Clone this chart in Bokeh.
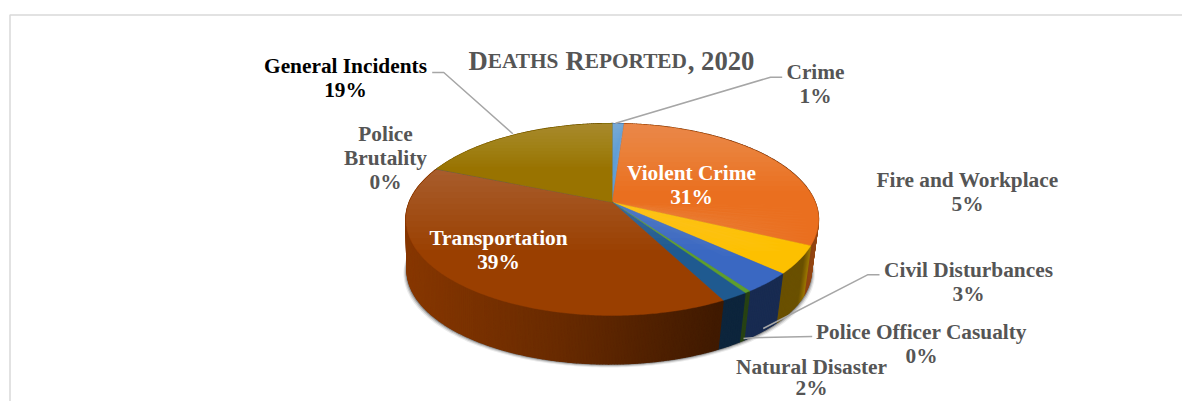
import numpy as np
from bokeh.plotting import figure
from bokeh.models import Range1d
from bokeh.core.properties import value
from bokeh.embed import file_html
from bokeh.resources import INLINE

# ---- data ----
categories = ["Crime", "Violent Crime", "Fire and Workplace", "Civil Disturbances",
              "Police Officer Casualty", "Natural Disaster", "Transportation",
              "Police Brutality", "General Incidents"]
shares = [1.1, 31.0, 4.7, 3.4, 0.4, 1.8, 38.8, 0.05, 18.75]
colors = ["#5B9BD5", "#EA6F1F", "#FDC000", "#3A68C2", "#5E9E2E",
          "#1F5A90", "#9A3F00", "#636363", "#997300"]
title_parts = ["D", "EATHS", "R", "EPORTED", ", 2020"]

# ---- layout ----
WIDTH, HEIGHT = 1182, 401
CX, CY = 611.7, 201.7
K, A, B = -0.18, 92.9, 203.0
DEPTH, BSCALE, BSHIFT = 51.8, 0.98, -3.0
FONT = value("Liberation Serif")
GREY = "#555555"

label_pos = {  # centre x, first line centre y, text colour, line breaks, line step
    "Crime": (815, 71, GREY, ["Crime"], 24),
    "Violent Crime": (691, 172, "#ffffff", ["Violent Crime"], 24),
    "Fire and Workplace": (967, 179, GREY, ["Fire and Workplace"], 24),
    "Civil Disturbances": (968, 269, GREY, ["Civil Disturbances"], 24),
    "Police Officer Casualty": (921, 331, GREY, ["Police Officer Casualty"], 24),
    "Natural Disaster": (811, 366, GREY, ["Natural Disaster"], 21.5),
    "Transportation": (498, 237, "#ffffff", ["Transportation"], 24),
    "Police Brutality": (385, 133, GREY, ["Police", "Brutality"], 24),
    "General Incidents": (345, 65, "#000000", ["General Incidents"], 24),
}
leaders = [
    ([431.7, 443.3, 512.3], [72, 72, 133.3]),
    ([781.7, 770, 615], [76.7, 76.7, 122.7]),
    ([879, 867, 762.7], [274.3, 274.3, 328]),
    ([811.7, 751.7, 743], [336, 337.3, 338]),
]


def top_pt(t):
    u, v = np.sin(t), -np.cos(t)
    d = 1 + K * v
    return CX + B * u / d, CY + A * v / d


def bot_pt(t):
    u, v = np.sin(t), -np.cos(t)
    d = 1 + K * v
    return CX + BSHIFT + BSCALE * B * u / d, CY + BSCALE * A * v / d + DEPTH - 1.0


def mix(c, f):
    r, g, b = int(c[1:3], 16), int(c[3:5], 16), int(c[5:7], 16)
    return "#%02x%02x%02x" % (int(r * f), int(g * f), int(b * f))


def side_shade(x):
    return float(np.interp(x, [405, 560, 717, 803, 809, 818],
                           [0.88, 0.68, 0.42, 0.42, 0.60, 0.65]))


p = figure(width=WIDTH, height=HEIGHT, x_range=Range1d(0, WIDTH), y_range=Range1d(HEIGHT, 0),
           output_backend="svg", toolbar_location=None, x_axis_type=None, y_axis_type=None,
           min_border=0, outline_line_color=None, background_fill_color="#ffffff")
p.grid.visible = False

# chart frame
p.line([WIDTH, 9.5, 9.5], [14.5, 14.5, HEIGHT], line_color="#d9d9d9", line_width=1.5)

# soft shadow under the pie
full = np.linspace(0, 2 * np.pi, 361)
bx, by = bot_pt(full)
for off, a in [(3.5, 0.08), (2.5, 0.14), (1.5, 0.22), (0.7, 0.30)]:
    gx = CX + BSHIFT + (bx - CX - BSHIFT) * (1 + off / 205)
    p.patch(gx, by + off, fill_color="#000000", fill_alpha=a, line_color=None)

# slice angles
fractions = np.array(shares) / sum(shares)
edges = np.concatenate([[0], np.cumsum(fractions)]) * 2 * np.pi

# extruded side, drawn as thin strips shaded by screen position
xs, ys, cs = [], [], []
for i, c in enumerate(colors):
    n = max(2, int((edges[i + 1] - edges[i]) / 0.012))
    ts = np.linspace(edges[i], edges[i + 1], n + 1)
    for t0, t1 in zip(ts[:-1], ts[1:]):
        x0, y0 = top_pt(t0)
        x1, y1 = top_pt(t1)
        x2, y2 = bot_pt(t1)
        x3, y3 = bot_pt(t0)
        xs.append([x0, x1, x2, x3])
        ys.append([y0, y1, y2, y3])
        cs.append(mix(c, side_shade((x0 + x1) / 2)))
p.patches(xs, ys, fill_color=cs, line_color=cs, line_width=1.2)

# top face: each slice carries its own light sheen, strongest at the slice's upper edge
LAYERS, SHEEN, REACH = 14, 0.20, 0.55
for i, c in enumerate(colors):
    ts = np.linspace(edges[i], edges[i + 1], max(3, int((edges[i + 1] - edges[i]) / 0.01)))
    tx, ty = top_pt(ts)
    sx, sy = np.r_[CX, tx], np.r_[CY, ty]
    p.patch(sx, sy, fill_color=c, line_color=c, line_width=0.4)
    y0, y1 = sy.min(), sy.max()
    for lim in np.linspace(y0 + REACH * (y1 - y0), y0, LAYERS, endpoint=False):
        p.patch(sx, np.minimum(sy, lim), fill_color="#ffffff",
                fill_alpha=SHEEN / LAYERS, line_color=None)

# leader lines
for lx, ly in leaders:
    p.line(lx, ly, line_color="#a6a6a6", line_width=1.5)

# labels
tx, ty, tt, tc = [], [], [], []
for name, share in zip(categories, shares):
    x, y, col, lines, step = label_pos[name]
    for j, s in enumerate(lines + ["%d%%" % round(share)]):
        tx.append(x); ty.append(y + step * j); tt.append(s); tc.append(col)
p.text(tx, ty, text=tt, text_color=tc, text_font=FONT, text_font_size="21.33px",
       text_font_style="bold", text_align="center", text_baseline="middle")

# title in small capitals
sizes = [26.67, 21.33, 26.67, 21.33, 26.67]
ems = [0.722, 3.39, 0.722, 4.834, 2.5]
gap = [0, 0.25 * 21.33, 0, 0, 0]
x = 468.0
for part, sz, em, g in zip(title_parts, sizes, ems, gap):
    p.text([x], [60], text=[part], text_color=GREY, text_font=FONT, text_font_size="%.2fpx" % sz,
           text_font_style="bold", text_align="left", text_baseline="alphabetic")
    x += sz * em + g

open("out.html", "w").write(file_html(p, INLINE))
